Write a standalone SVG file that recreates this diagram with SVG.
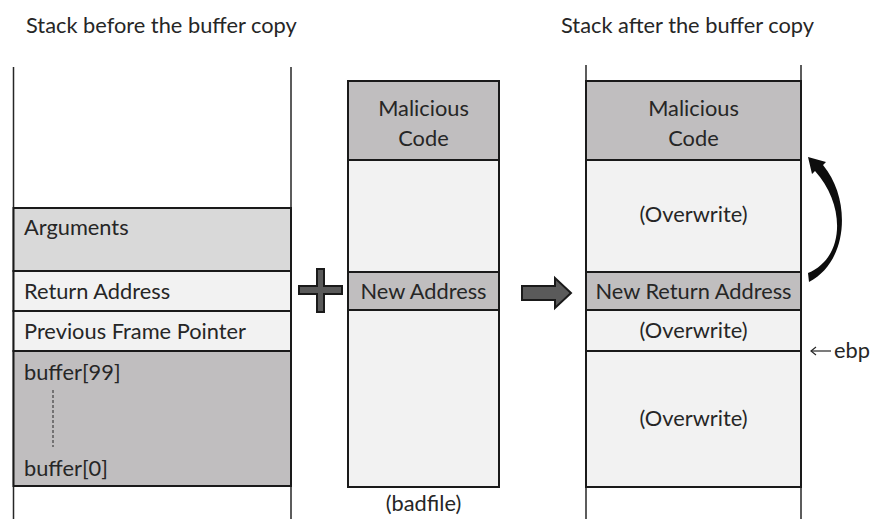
<svg xmlns="http://www.w3.org/2000/svg" width="884" height="519" viewBox="0 0 884 519">
<style>
text{font-family:Lato,"Noto Sans","Liberation Sans",sans-serif;font-size:21.8px;fill:#262626}
.c{text-anchor:middle}
.blk{stroke:#1a1a1a;stroke-width:2}
.wall{stroke:#262626;stroke-width:1.5;fill:none}
.lt{fill:#f2f2f2}.md{fill:#d9d9d9}.dk{fill:#c0bebf}
</style>
<rect width="884" height="519" fill="#ffffff"/>
<g id="titles">
<text x="26" y="33">Stack before the buffer copy</text>
<text x="561" y="33">Stack after the buffer copy</text>
</g>
<g id="stack-before">
<line class="wall" x1="13.5" y1="67" x2="13.5" y2="519"/>
<line class="wall" x1="291" y1="67" x2="291" y2="519"/>
<g id="arguments"><rect class="blk md" x="13.5" y="208" width="277.5" height="63"/><text x="24" y="235">Arguments</text></g>
<g id="return-address"><rect class="blk lt" x="13.5" y="271" width="277.5" height="40"/><text x="24" y="299">Return Address</text></g>
<g id="prev-frame"><rect class="blk lt" x="13.5" y="311" width="277.5" height="40"/><text x="24" y="339">Previous Frame Pointer</text></g>
<g id="buffer"><rect class="blk dk" x="13.5" y="351" width="277.5" height="135"/><text x="24" y="380">buffer[99]</text>
<line x1="53" y1="390" x2="53" y2="447" stroke="#262626" stroke-width="1" stroke-dasharray="3,2"/>
<text x="24" y="476">buffer[0]</text></g>
</g>
<g id="plus"><path d="M317,269 H324 V286 H342 V294 H324 V312 H317 V294 H299 V286 H317 Z" fill="#5a5a5a" stroke="#1a1a1a" stroke-width="2" stroke-linejoin="miter"/></g>
<g id="badfile">
<rect class="blk lt" x="348" y="81" width="151" height="406"/>
<g id="bf-malicious"><rect class="blk dk" x="348" y="81" width="151" height="79"/><text class="c" x="423.5" y="116">Malicious</text><text class="c" x="423.5" y="146">Code</text></g>
<g id="bf-newaddr"><rect class="blk dk" x="348" y="272" width="151" height="38"/><text class="c" x="423.5" y="299">New Address</text></g>
<text class="c" x="423.5" y="511">(badfile)</text>
</g>
<g id="connectors">
<path id="copy-arrow" d="M522,286 H555 V278 L571,293 L555,308 V300 H522 Z" fill="#5a5a5a" stroke="#1a1a1a" stroke-width="2"/>
<path id="jump-arrow" d="M809,282 C848,262 852,200 823,165 L826,162 L808,157 L812,174 L815,171 C846,205 845,258 808,273 Z" fill="#0d0d0d"/>
<g id="ebp-arrow"><line x1="811" y1="351" x2="831" y2="351" stroke="#262626" stroke-width="1.2"/><path d="M816,347 L811,351 L816,355" fill="none" stroke="#262626" stroke-width="1.2"/></g>
</g>
<g id="stack-after">
<line class="wall" x1="586" y1="65" x2="586" y2="519"/>
<line class="wall" x1="801" y1="65" x2="801" y2="519"/>
<g id="sa-malicious"><rect class="blk dk" x="586" y="81" width="215" height="79"/><text class="c" x="693.5" y="116">Malicious</text><text class="c" x="693.5" y="146">Code</text></g>
<g id="sa-overwrite1"><rect class="blk lt" x="586" y="160" width="215" height="112"/><text class="c" x="693.5" y="222">(Overwrite)</text></g>
<g id="sa-overwrite2"><rect class="blk lt" x="586" y="310" width="215" height="41"/><text class="c" x="693.5" y="338">(Overwrite)</text></g>
<g id="sa-newret"><rect class="blk dk" x="586" y="272" width="215" height="38"/><text class="c" x="693.5" y="299">New Return Address</text></g>
<g id="sa-overwrite3"><rect class="blk lt" x="586" y="351" width="215" height="136"/><text class="c" x="693.5" y="426">(Overwrite)</text></g>
</g>
<g id="ebp-label"><text x="834" y="358">ebp</text></g>
</svg>
